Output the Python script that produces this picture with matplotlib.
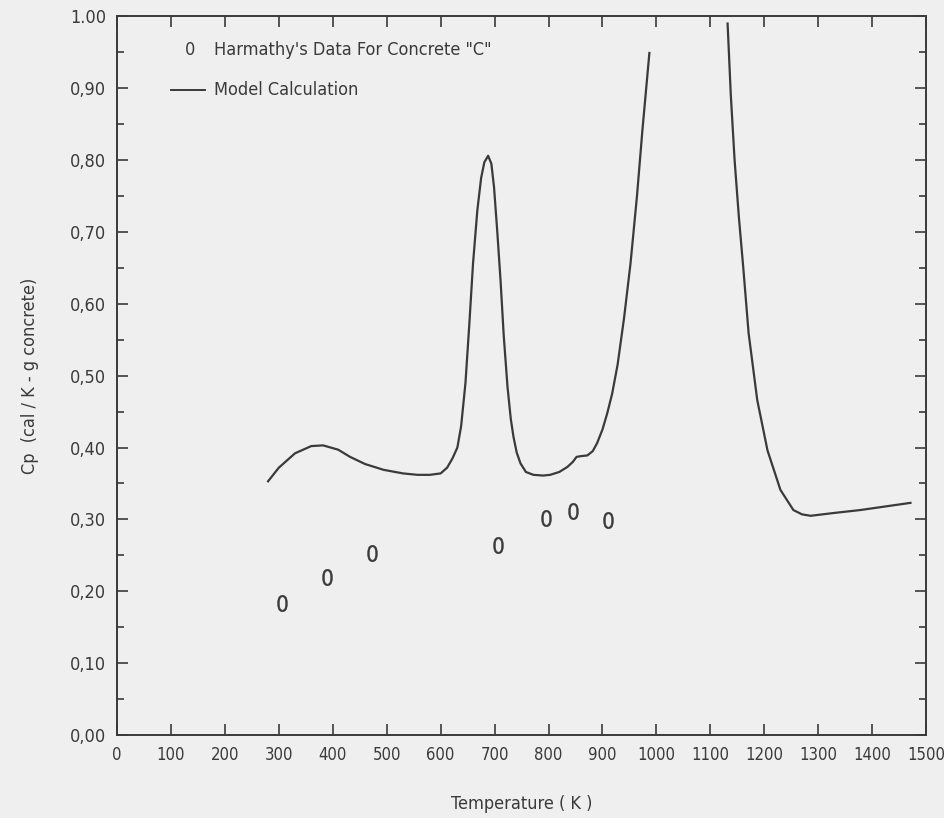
import numpy as np
import matplotlib.pyplot as plt
from matplotlib.ticker import MultipleLocator

# model calculation, two pieces (curve runs off the top between them)
t_low = [280, 300, 330, 360, 382, 410, 432, 460, 494, 530, 557, 580, 600, 612, 622,
         631, 638, 646, 653, 660, 668, 675, 681, 688, 694, 699, 705, 711, 717, 724,
         730, 735, 741, 748, 758, 772, 790, 803, 820, 835, 845, 852, 860, 872, 882,
         890, 900, 909, 918, 928, 940, 952, 964, 974, 987]
cp_low = [0.353, 0.372, 0.392, 0.402, 0.403, 0.397, 0.387, 0.377, 0.369, 0.364, 0.362,
          0.362, 0.364, 0.372, 0.385, 0.400, 0.430, 0.490, 0.570, 0.656, 0.730, 0.775,
          0.797, 0.806, 0.795, 0.762, 0.700, 0.633, 0.555, 0.484, 0.440, 0.415, 0.393,
          0.378, 0.366, 0.362, 0.361, 0.362, 0.366, 0.373, 0.380, 0.387, 0.388, 0.389,
          0.395, 0.406, 0.425, 0.448, 0.475, 0.515, 0.580, 0.656, 0.750, 0.841, 0.949]
t_high = [1132, 1138, 1145, 1153, 1161, 1171, 1187, 1206, 1230, 1254, 1270, 1286, 1330, 1378, 1471]
cp_high = [0.990, 0.890, 0.800, 0.720, 0.651, 0.559, 0.466, 0.396, 0.341, 0.313, 0.307,
           0.305, 0.309, 0.313, 0.323]

# Harmathy's data for concrete "C"
t_data = [306, 390, 473, 707, 796, 846, 911]
cp_data = [0.184, 0.220, 0.253, 0.264, 0.302, 0.312, 0.299]

ytick_vals = [0.0, 0.1, 0.2, 0.3, 0.4, 0.5, 0.6, 0.7, 0.8, 0.9, 1.0]
ytick_labels = ['0,00', '0,10', '0,20', '0,30', '0,40', '0,50', '0,60', '0,70',
                '0,80', '0,90', '1.00']

plt.rcParams['font.family'] = ['DejaVu Sans']
plt.rcParams['font.stretch'] = 'condensed'
ink = '#3a3a3a'
bg = '#efefef'

fig = plt.figure(figsize=(9.44, 8.18), dpi=100, facecolor=bg)
ax = fig.add_axes([0.124, 0.1015, 0.857, 0.8785], facecolor=bg)

t = np.array(t_low + [np.nan] + t_high, dtype=float)
cp = np.array(cp_low + [np.nan] + cp_high, dtype=float)
ax.plot(t, cp, color=ink, lw=1.6)
ax.plot(t_data, cp_data, ls='none', marker='$0$', ms=12, color=ink, mew=0.3)

# legend written by hand like the original
ax.text(135, 0.953, '0', color=ink, fontsize=13, ha='center', va='center')
ax.text(180, 0.953, 'Harmathy\'s Data For Concrete "C"', color=ink, fontsize=13, va='center')
ax.plot([100, 163], [0.897, 0.897], color=ink, lw=1.4)
ax.text(180, 0.897, 'Model Calculation', color=ink, fontsize=13, va='center')

ax.set_xlim(0, 1500)
ax.set_ylim(0, 1.0)
ax.set_xticks(range(0, 1501, 100))
ax.set_yticks(ytick_vals)
ax.set_yticklabels(ytick_labels)
ax.yaxis.set_minor_locator(MultipleLocator(0.05))
ax.tick_params(which='both', direction='in', top=True, right=True, colors=ink,
               labelsize=12, width=1.2)
ax.tick_params(axis='y', labelsize=13)
ax.tick_params(which='major', length=8, pad=8)
ax.tick_params(which='minor', length=5)
for s in ax.spines.values():
    s.set_color(ink)
    s.set_linewidth(1.4)

ax.set_xlabel('Temperature ( K )', fontsize=13, color=ink, labelpad=22)
ax.set_ylabel('Cp  (cal / K - g concrete)', fontsize=13, color=ink, labelpad=22)

fig.savefig('out.png', dpi=100, facecolor=bg)
